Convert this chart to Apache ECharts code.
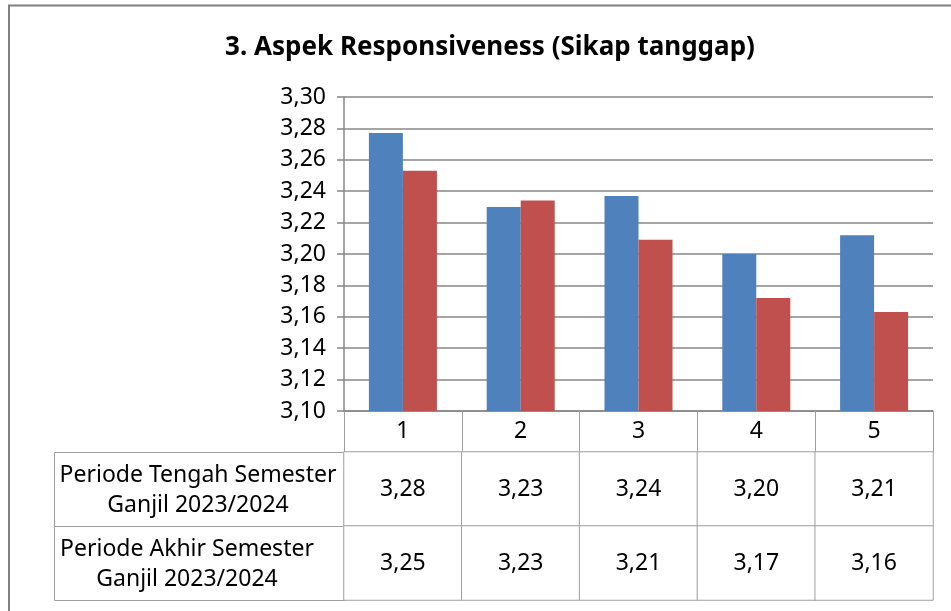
<!DOCTYPE html>
<html>
<head>
<meta charset="utf-8">
<script src="https://cdn.jsdelivr.net/npm/echarts@6/dist/echarts.min.js"></script>
<style>
html,body{margin:0;padding:0;background:#fff;}
#c{width:951px;height:611px;}
</style>
</head>
<body>
<div id="c"></div>
<script>
var titleText = '3. Aspek Responsiveness (Sikap tanggap)';
var categories = ['1', '2', '3', '4', '5'];
var seriesNames = ['Periode Tengah Semester\nGanjil 2023/2024', 'Periode Akhir Semester\nGanjil 2023/2024'];
var tengahValues = [3.277, 3.230, 3.237, 3.200, 3.212];
var akhirValues = [3.253, 3.234, 3.209, 3.172, 3.163];
var yMin = 3.10, yMax = 3.30, yInterval = 0.02;

var FONT = '"Noto Sans", "Open Sans", sans-serif';
var fmt = function (v) { return Number(v).toFixed(2).replace('.', ','); };

// layout
var plotLeft = 344, plotRight = 933, plotTop = 97, plotBottom = 411;
var tableLeft = 54, tableTop = 452, rowH = 74;
var gridColor = '#878787', tableColor = '#a0a0a0';
var FS = 23;

var heatData = [];
[tengahValues, akhirValues].forEach(function (arr, r) {
  arr.forEach(function (v, i) { heatData.push([i, r, v]); });
});

var headerCenters = [198, 187];
var graphics = [{
  type: 'rect', shape: { x: 9, y: 5.5, width: 1000, height: 700 },
  style: { fill: 'none', stroke: '#808080', lineWidth: 2 }, z: 0
}];
seriesNames.forEach(function (name, r) {
  graphics.push({
    type: 'rect', shape: { x: tableLeft + 0.5, y: tableTop + r * rowH + 0.5, width: plotLeft - tableLeft, height: rowH },
    style: { fill: '#fff', stroke: tableColor, lineWidth: 1 }
  });
  graphics.push({
    type: 'text', x: headerCenters[r], y: tableTop + r * rowH + rowH / 2 + 1,
    style: { text: name, fontFamily: FONT, fontSize: FS, fill: '#000', align: 'center', verticalAlign: 'middle', lineHeight: 30 }
  });
});

var chart = echarts.init(document.getElementById('c'), null, { renderer: 'canvas' });
chart.setOption({
  backgroundColor: '#fff',
  animation: false,
  title: {
    text: titleText, left: 485, top: 30, textAlign: 'center',
    textStyle: { fontFamily: FONT, fontSize: 26, fontWeight: 'bold', color: '#000' }
  },
  grid: [
    { left: plotLeft, right: 951 - plotRight, top: plotTop, height: plotBottom - plotTop },
    { left: plotLeft, right: 951 - plotRight, top: tableTop, height: rowH * 2 }
  ],
  xAxis: [{
    type: 'category', data: categories, gridIndex: 0,
    axisLine: { lineStyle: { color: gridColor, width: 1.5 } },
    axisTick: { show: true, interval: 0, length: tableTop - plotBottom, lineStyle: { color: tableColor } },
    axisLabel: { fontFamily: FONT, fontSize: FS, color: '#000', margin: 9 }
  }, {
    type: 'category', data: categories, gridIndex: 1, show: false
  }],
  yAxis: [{
    type: 'value', min: yMin, max: yMax, interval: yInterval, gridIndex: 0,
    axisLine: { show: true, lineStyle: { color: gridColor, width: 1.5 } },
    axisTick: { show: true, length: 7, lineStyle: { color: gridColor, width: 1.5 } },
    splitLine: { lineStyle: { color: gridColor, width: 1.5 } },
    axisLabel: { fontFamily: FONT, fontSize: FS, color: '#000', margin: 18, formatter: fmt }
  }, {
    type: 'category', data: ['A', 'B'], inverse: true, gridIndex: 1, show: false
  }],
  visualMap: { show: false, seriesIndex: 2, min: 0, max: 10, inRange: { color: ['#ffffff', '#ffffff'] } },
  series: [{
    type: 'bar', name: seriesNames[0], data: tengahValues, xAxisIndex: 0, yAxisIndex: 0,
    barWidth: 34, barGap: '0%', itemStyle: { color: '#4F81BD' }
  }, {
    type: 'bar', name: seriesNames[1], data: akhirValues, xAxisIndex: 0, yAxisIndex: 0,
    barWidth: 34, barGap: '0%', itemStyle: { color: '#C0504D' }
  }, {
    type: 'heatmap', data: heatData, xAxisIndex: 1, yAxisIndex: 1,
    itemStyle: { color: '#fff', borderColor: tableColor, borderWidth: 1 },
    label: { show: true, fontFamily: FONT, fontSize: FS, color: '#000', formatter: function (p) { return fmt(p.value[2]); } }
  }],
  graphic: graphics
});
</script>
</body>
</html>
